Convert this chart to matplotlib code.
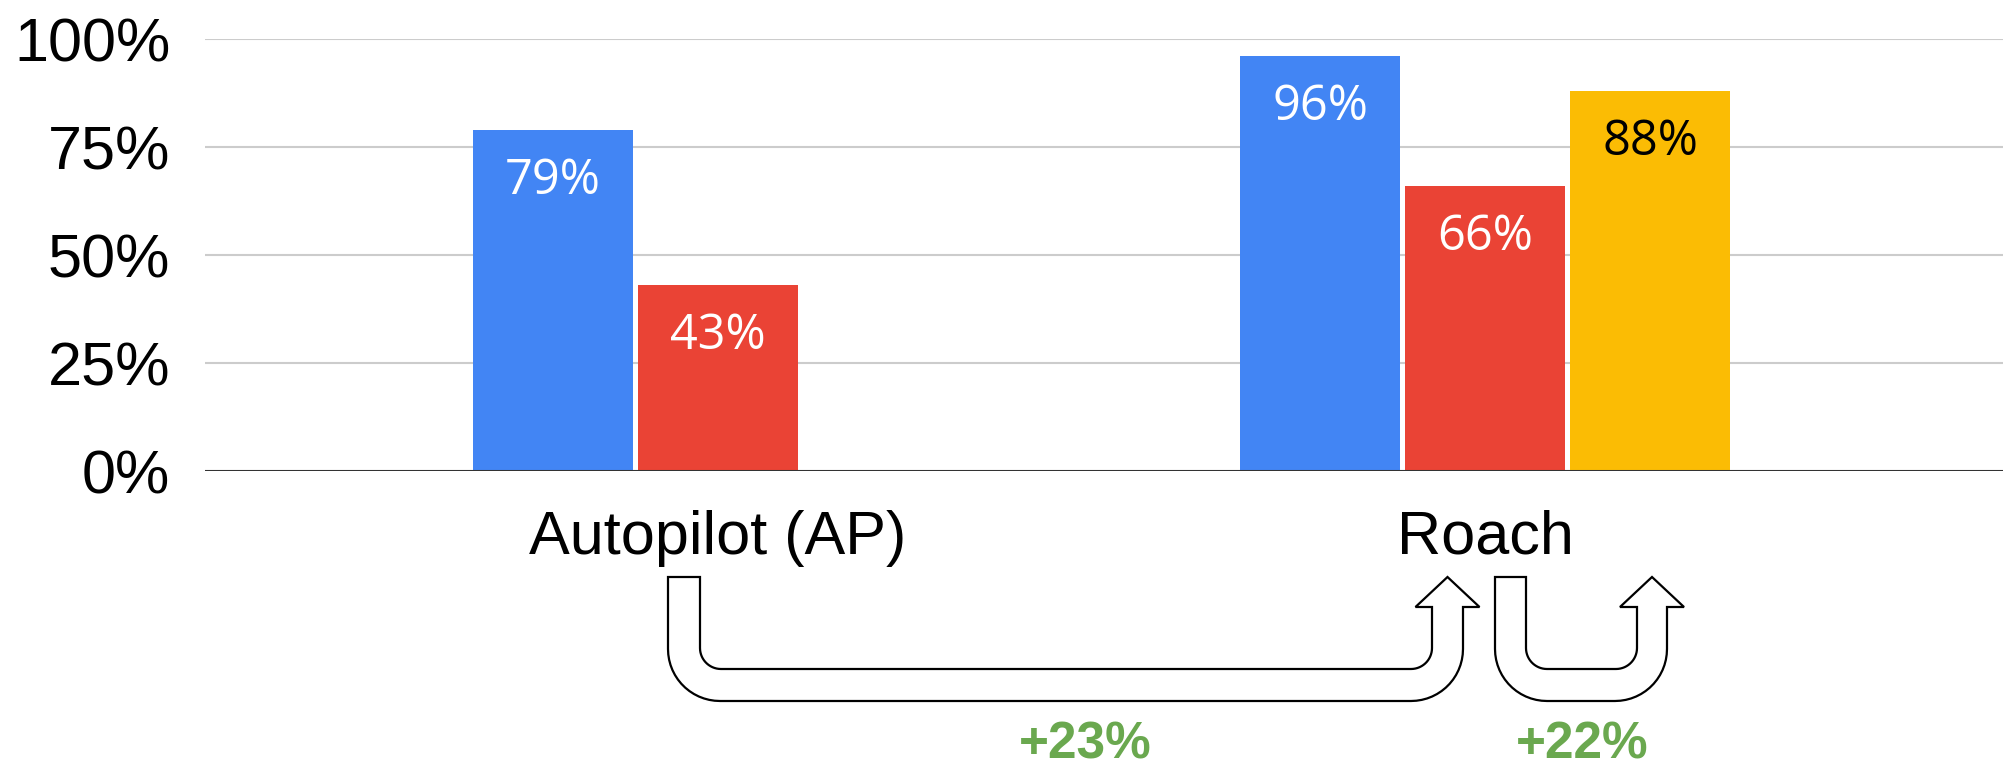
#!/usr/bin/env python3
"""
Grouped bar chart: Autopilot (AP) vs Roach, with U-turn arrows showing the gains
"""

import numpy as np
import matplotlib.pyplot as plt
from matplotlib.path import Path
from matplotlib.patches import PathPatch

# data
categories = ['Autopilot (AP)', 'Roach']
blue_values = [79, 96]
red_values = [43, 66]
yellow_values = [np.nan, 88]
y_ticks = [0, 25, 50, 75, 100]

colors = ['#4285F4', '#EA4335', '#FBBC04']
label_colors = ['white', 'white', 'black']

W, H = 2003, 766  # canvas in px


def px(x, y):
    """image pixel (y down) -> figure fraction"""
    return x / W, 1 - y / H


def quarter(cx, cy, r, t0, t1, n=16):
    t = np.linspace(t0, t1, n)
    return list(zip(cx + r * np.cos(t), cy + r * np.sin(t)))


def u_arrow(fig, x0o, x0i, x1i, x1o, top=577, base=607, yb_i=669, yb_o=701,
            r_o=52, r_i=21, head=32):
    tip = (x1i + x1o) / 2
    pts = [(x0o, top), (x0o, yb_o - r_o)]
    pts += quarter(x0o + r_o, yb_o - r_o, r_o, np.pi, np.pi / 2)
    pts += quarter(x1o - r_o, yb_o - r_o, r_o, np.pi / 2, 0)
    pts += [(x1o, base), (tip + head, base), (tip, top), (tip - head, base),
            (x1i, base)]
    pts += quarter(x1i - r_i, yb_i - r_i, r_i, 0, np.pi / 2)
    pts += quarter(x0i + r_i, yb_i - r_i, r_i, np.pi / 2, np.pi)
    pts += [(x0i, top), (x0o, top)]
    verts = [px(x, y) for x, y in pts]
    codes = [Path.MOVETO] + [Path.LINETO] * (len(verts) - 2) + [Path.CLOSEPOLY]
    patch = PathPatch(Path(verts, codes), facecolor='white', edgecolor='black',
                      linewidth=1.6, transform=fig.transFigure, joinstyle='miter')
    fig.patches.append(patch)


fig = plt.figure(figsize=(20.03, 7.66), dpi=100)
ax = fig.add_axes([205 / W, (H - 471) / H, (W - 205) / W, (471 - 39) / H])

x = np.arange(len(categories))
width = 160 / 767
step = 165 / 767

for i, (vals, c, lc) in enumerate(zip([blue_values, red_values, yellow_values],
                                      colors, label_colors)):
    pos = x + (i - 1) * step
    ax.bar(pos, vals, width, color=c, zorder=2)
    for p, v in zip(pos, vals):
        if np.isnan(v):
            continue
        ax.annotate(f'{v:.0f}%', (p, v), xytext=(0, -19), textcoords='offset points',
                    ha='center', va='top', color=lc, fontsize=35, family='Open Sans',
                    zorder=3)

ax.set_xlim((205 - 718) / 767, (W - 718) / 767)
ax.set_ylim(0, 100)
ax.set_yticks(y_ticks)
ax.set_yticklabels([f'{t}%' for t in y_ticks], fontsize=44, family='Liberation Sans')
ax.set_xticks(x)
ax.set_xticklabels(categories, fontsize=44, family='Liberation Sans')
ax.tick_params(axis='y', length=0, pad=25)
ax.tick_params(axis='x', length=0, pad=28)
ax.grid(axis='y', color='#cccccc', linewidth=1.5, zorder=0)
ax.set_axisbelow(True)
ax.axhline(0, color='#333333', linewidth=2.2, zorder=4)
for s in ax.spines.values():
    s.set_visible(False)

# U-turn arrows with gains
u_arrow(fig, 668, 700, 1432, 1463)
u_arrow(fig, 1495, 1526, 1637, 1667)
gain_1 = red_values[1] - red_values[0]
gain_2 = yellow_values[1] - red_values[1]
for gx, g in [(1085, gain_1), (1582, gain_2)]:
    fig.text(*px(gx, 745), f'+{g:.0f}%', ha='center', va='center', fontsize=37,
             fontweight='bold', color='#6AA84F', family='Liberation Sans')

plt.savefig('out.png', dpi=100)
